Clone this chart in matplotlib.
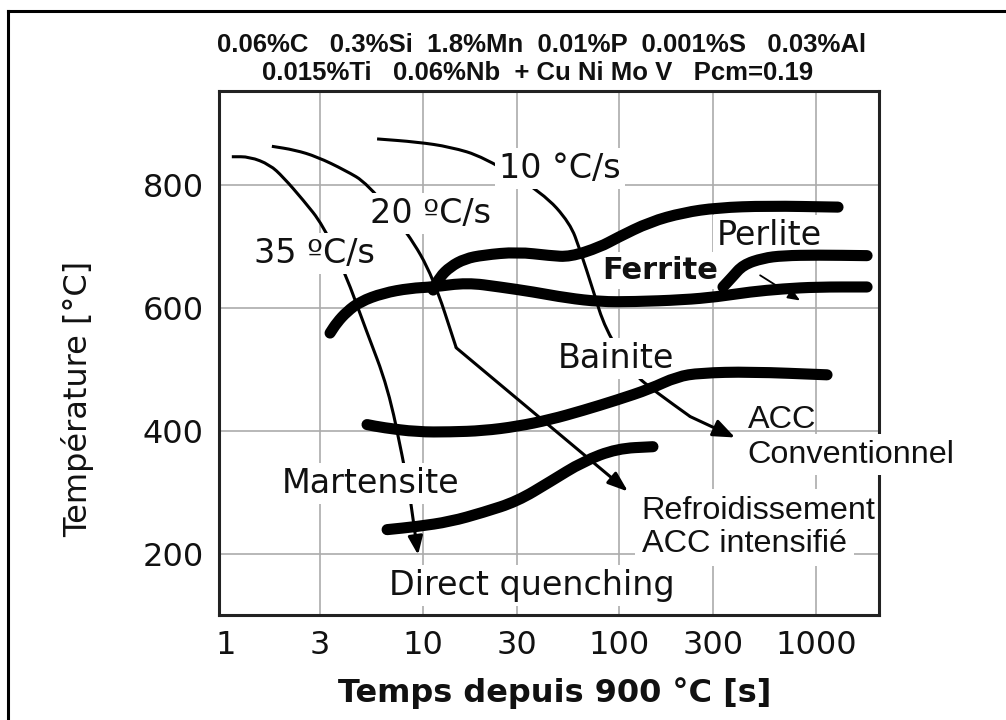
import matplotlib
matplotlib.use("Agg")
import numpy as np
import matplotlib.pyplot as plt
from matplotlib.lines import Line2D
from matplotlib.path import Path
from matplotlib.patches import PathPatch

# ---- axis ticks ----
x_ticks = [1, 3, 10, 30, 100, 300, 1000]
y_ticks = [200, 400, 600, 800]

# ---- transformation boundaries (thick curves), time [s] / temperature [C] ----
ferrite_start_t = [3.38, 3.66, 4.12, 4.80, 6.28, 8.62, 11.3, 16.8, 24.7, 36.4, 54.2, 79.7, 117, 211, 314, 461, 679, 1011, 1815]
ferrite_start_T = [559, 576, 594, 610, 624, 632, 634, 641, 634, 626, 616, 610, 610, 613, 618, 626, 631, 634, 634]

ferrite_upper_t = [11.3, 12.2, 13.8, 16.4, 20.3, 30.2, 44.4, 56.1, 79.7, 97.2, 143, 211, 314, 563, 1292]
ferrite_upper_T = [629, 650, 667, 680, 686, 691, 685, 683, 699, 714, 740, 755, 763, 766, 764]

perlite_t = [336, 374, 425, 537, 679, 1011, 1815]
perlite_T = [634, 650, 670, 681, 685, 686, 685]

bainite_t = [5.21, 6.28, 9.36, 13.8, 20.3, 30.2, 44.4, 65.3, 97.2, 143, 196, 257, 461, 1136]
bainite_T = [410, 405, 398, 398, 400, 407, 418, 433, 450, 468, 488, 494, 496, 491]

martensite_t = [6.59, 9.36, 13.8, 20.3, 30.2, 44.4, 65.3, 97.2, 148]
martensite_T = [239, 244, 252, 267, 285, 317, 350, 371, 374]

# ---- cooling curves (thin), the tip is where the arrow ends ----
cool35_t = [1.07, 1.32, 1.67, 1.95, 2.46, 3.11, 4.03, 5.15, 6.66, 7.94, 8.62]
cool35_T = [846, 846, 833, 813, 776, 735, 657, 564, 470, 353, 291]
cool35_tip = (9.47, 198)

cool20_t = [1.71, 2.24, 2.90, 4.03, 5.21, 8.42, 11.3, 14.8]
cool20_T = [863, 857, 846, 824, 803, 722, 650, 535]
cool20_tip = (110.6, 301)

cool10_t = [5.86, 9.36, 13.8, 20.3, 40.9, 56.1, 63.1, 73.4, 84.5, 116, 155, 229]
cool10_T = [875, 870, 862, 846, 787, 738, 694, 629, 566, 494, 462, 423]
cool10_tip = (387, 389)

perlite_arrow = [(519, 653), (828, 612)]

header_lines = ["0.06%C   0.3%Si  1.8%Mn  0.01%P  0.001%S   0.03%Al",
                "0.015%Ti   0.06%Nb  + Cu Ni Mo V   Pcm=0.19"]


def smooth_path(t, T):
    # quadratic bezier through the midpoints (log-x midpoints), ends are kept
    pts = list(zip(t, T))
    verts = [pts[0]]
    codes = [Path.MOVETO]
    mids = [(np.sqrt(a[0] * b[0]), (a[1] + b[1]) / 2) for a, b in zip(pts[:-1], pts[1:])]
    verts.append(mids[0])
    codes.append(Path.LINETO)
    for i in range(1, len(pts) - 1):
        verts += [pts[i], mids[i]]
        codes += [Path.CURVE3, Path.CURVE3]
    verts.append(pts[-1])
    codes.append(Path.LINETO)
    return Path(verts, codes)


fig = plt.figure(figsize=(10.06, 7.2), dpi=100)
ax = fig.add_axes([0.2177, 0.1458, 0.6561, 0.7278])
ax.set_xscale("log")
ax.set_xlim(0.921, 2088)
ax.set_ylim(100, 953)

ax.set_xticks(x_ticks)
ax.set_xticklabels([str(v) for v in x_ticks])
ax.set_yticks(y_ticks)
ax.minorticks_off()
ax.tick_params(length=0, labelsize=23, colors="#111111")
ax.tick_params(axis="x", pad=11)
ax.tick_params(axis="y", pad=11)
ax.grid(True, color="#ababab", lw=1.2)
ax.set_axisbelow(True)
# no grid line at t = 1 s (it sits right against the left spine)
ax.xaxis.get_gridlines()[0].set_visible(False)
for sp in ax.spines.values():
    sp.set_color("#222222")
    sp.set_linewidth(2.2)

# thick boundaries
for t, T in [(ferrite_start_t, ferrite_start_T), (ferrite_upper_t, ferrite_upper_T),
             (perlite_t, perlite_T), (bainite_t, bainite_T), (martensite_t, martensite_T)]:
    ax.add_patch(PathPatch(smooth_path(t, T), fill=False, edgecolor="black", lw=8,
                           capstyle="round", joinstyle="round", zorder=6))

# thin cooling curves
for t, T, tip, hl, hw in [(cool35_t, cool35_T, cool35_tip, 0.5, 0.2),
                          (cool20_t, cool20_T, cool20_tip, 0.55, 0.2),
                          (cool10_t, cool10_T, cool10_tip, 0.6, 0.24)]:
    ax.add_patch(PathPatch(smooth_path(t, T), fill=False, edgecolor="black", lw=2.2,
                           joinstyle="round", zorder=2))
    ax.annotate("", xy=tip, xytext=(t[-1], T[-1]),
                arrowprops=dict(arrowstyle=f"-|>,head_length={hl},head_width={hw}",
                                color="black", lw=2.2, mutation_scale=22,
                                shrinkA=0, shrinkB=0), zorder=2)

ax.annotate("", xy=perlite_arrow[1], xytext=perlite_arrow[0],
            arrowprops=dict(arrowstyle="-|>,head_length=0.6,head_width=0.25",
                            color="black", lw=1.3, mutation_scale=12,
                            shrinkA=0, shrinkB=0), zorder=7)

box = dict(facecolor="white", edgecolor="none", pad=3)
lab = dict(fontsize=24, family="DejaVu Sans", color="#111111", va="baseline",
           ha="center", zorder=5, bbox=box)
ax.text(2.80, 673, "35 ºC/s", **lab)
ax.text(11.0, 738, "20 ºC/s", **lab)
ax.text(49.9, 811, "10 °C/s", **lab)
ax.text(580, 702, "Perlite", **lab)
ax.text(96.1, 502, "Bainite", **lab)
ax.text(5.46, 299, "Martensite", **lab)
ax.text(36.0, 132, "Direct quenching", **lab)
ax.text(161, 647, "Ferrite", fontsize=22, fontweight="bold", family="DejaVu Sans",
        color="#111111", va="baseline", ha="center", zorder=5, bbox=box)

arial = dict(fontsize=23.3, family="Liberation Sans", color="#111111",
             va="baseline", ha="left", clip_on=False)
ax.text(450, 405, "ACC", zorder=5, **arial)
ax.text(446, 348, "Conventionnel", zorder=5, bbox=dict(facecolor="white", edgecolor="none", pad=4), **arial)
ax.text(130, 257, "Refroidissement", zorder=2.3, bbox=dict(facecolor="white", edgecolor="none", pad=5), **arial)
ax.text(130, 202, "ACC intensifié", zorder=2.3, bbox=dict(facecolor="white", edgecolor="none", pad=5), **arial)

fig.text(0.077, 0.4458, "Température [°C]", rotation=90, ha="center", va="center",
         fontsize=23, family="DejaVu Sans", color="#111111")
fig.text(0.551, 0.0375, "Temps depuis 900 °C [s]", ha="center", va="center",
         fontsize=23, fontweight="bold", family="DejaVu Sans", color="#111111")

fig.text(0.538, 1 - 52 / 720, header_lines[0], ha="center", va="baseline",
         fontsize=18.5, fontweight="bold", family="Liberation Sans", color="#111111")
fig.text(0.534, 1 - 80 / 720, header_lines[1], ha="center", va="baseline",
         fontsize=18.5, fontweight="bold", family="Liberation Sans", color="#111111")

# outer frame (top and left edges)
fig.add_artist(Line2D([8 / 1006, 1.0], [1 - 11 / 720, 1 - 11 / 720], color="black", lw=2.2))
fig.add_artist(Line2D([8 / 1006, 8 / 1006], [0.0, 1 - 11 / 720], color="black", lw=2.2))

fig.savefig("out.png", dpi=100)
